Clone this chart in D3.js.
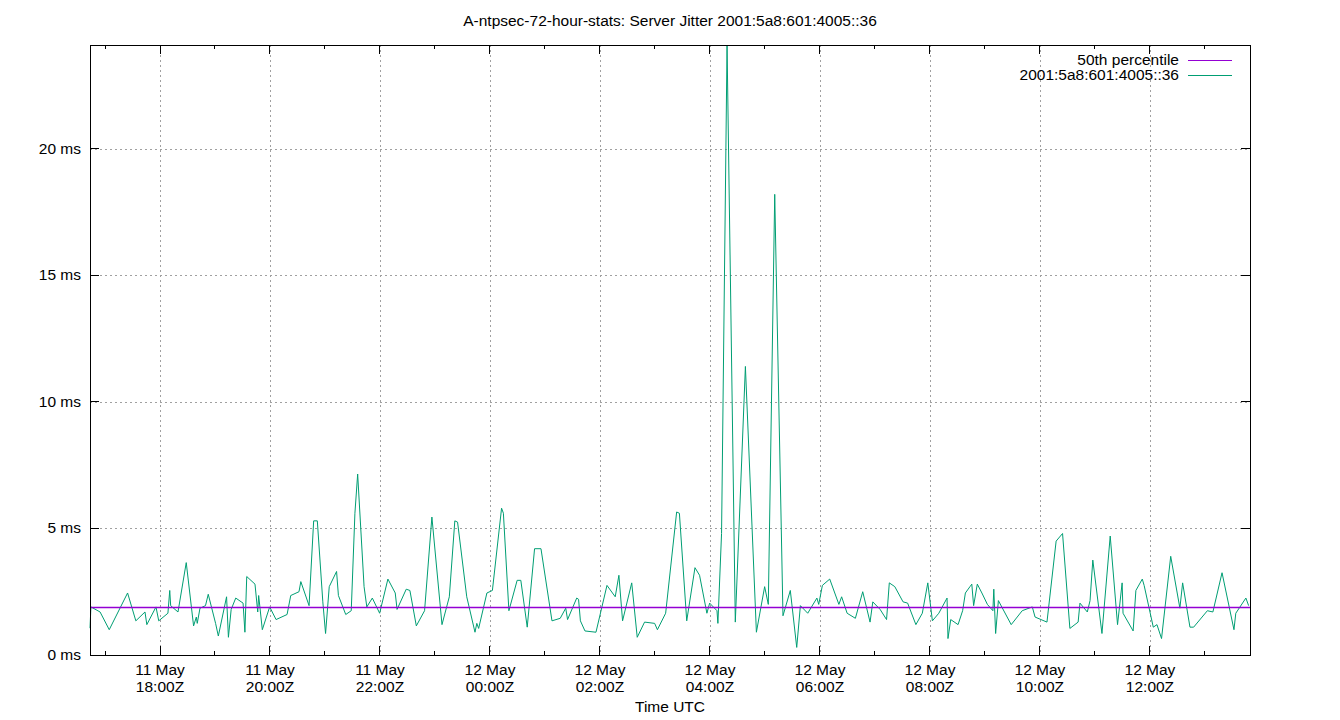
<!DOCTYPE html><html><head><meta charset="utf-8"><script src="https://cdn.jsdelivr.net/npm/d3@7"></script>
<style>body{margin:0;background:#fff}text{font-family:"Liberation Sans",Arial,sans-serif;font-size:15.5px}</style></head><body><svg id="c" width="1340" height="720"></svg><script>
const title="A-ntpsec-72-hour-stats: Server Jitter 2001:5a8:601:4005::36";
const seriesName="2001:5a8:601:4005::36";
const medianName="50th percentile";
const medianValue=1.89;
const startTime=Date.UTC(2023,4,11,16,43,38);
const spanMinutes=1265.5;
const yTicks=[0,5,10,15,20];
// [minutes since start, jitter ms]
const jitter=[[0,1.06],[1,1.9],[11,1.7],[21,1.0],[41,2.45],[50,1.35],[60,1.7],[62,1.2],[72,1.9],[75,1.35],[85,1.65],[87,2.55],[88,1.95],[96,1.7],[105,3.65],[113,1.15],[116,1.5],[117,1.25],[120,1.85],[126,1.95],[129,2.4],[137,1.25],[140,0.75],[149,2.3],[151,0.7],[154,1.8],[159,2.25],[167,2.05],[169,0.9],[171,3.1],[180,2.8],[183,1.7],[184,2.35],[188,1.0],[196,1.9],[203,1.4],[215,1.6],[219,2.35],[228,2.5],[230,2.9],[239,1.95],[244,5.3],[248,5.3],[254,2.1],[257,0.85],[261,2.7],[269,3.3],[271,2.35],[279,1.6],[285,1.75],[289,5.6],[292,7.15],[299,2.7],[302,1.9],[308,2.25],[316,1.65],[325,3.0],[333,2.45],[335,1.8],[345,2.6],[349,2.55],[356,1.15],[365,1.75],[373,5.45],[384,1.2],[392,2.3],[398,5.3],[401,5.25],[411,2.3],[420,0.9],[422,1.25],[424,1.05],[433,2.45],[439,2.55],[449,5.8],[451,5.6],[457,1.75],[466,2.95],[470,2.95],[477,1.1],[485,4.2],[492,4.2],[504,1.35],[513,1.45],[519,1.85],[521,1.4],[531,2.25],[533,2.2],[535,1.35],[540,0.95],[552,0.9],[564,2.75],[573,2.3],[577,3.15],[581,1.35],[591,2.85],[597,0.7],[605,1.3],[616,1.25],[619,1.0],[628,1.65],[640,5.65],[643,5.6],[651,1.35],[660,3.45],[665,3.15],[673,1.65],[676,2.05],[684,1.75],[685,1.25],[689,4.8],[695,24.1],[704,1.3],[715,11.4],[727,0.9],[736,2.7],[740,2.0],[747,18.2],[756,1.55],[764,2.55],[771,0.3],[775,1.95],[783,1.65],[793,2.25],[795,2.0],[799,2.75],[807,3.0],[817,2.0],[820,2.3],[826,1.65],[835,1.45],[843,2.5],[851,1.3],[854,2.1],[862,1.8],[869,1.4],[872,2.85],[878,2.7],[887,2.1],[892,2.05],[901,1.2],[908,1.65],[914,2.85],[919,1.35],[926,1.65],[935,2.25],[936,0.65],[939,1.4],[947,1.2],[952,1.75],[955,2.45],[960,2.7],[962,2.8],[964,1.95],[968,2.8],[973,2.45],[979,2.0],[985,1.75],[986,2.6],[988,0.85],[991,2.15],[1005,1.2],[1017,1.75],[1028,1.9],[1031,1.5],[1044,1.3],[1054,4.5],[1061,4.8],[1069,1.05],[1078,1.3],[1080,2.05],[1088,1.7],[1091,2.15],[1094,3.75],[1104,0.85],[1113,4.7],[1121,1.2],[1126,2.85],[1127,1.65],[1138,0.95],[1141,2.55],[1148,3.0],[1150,2.75],[1160,1.1],[1164,1.2],[1169,0.65],[1179,3.9],[1189,1.85],[1192,2.85],[1200,1.1],[1204,1.1],[1219,1.75],[1225,1.7],[1235,3.25],[1248,1.0],[1250,1.65],[1261,2.25],[1264,1.95]];
const svg=d3.select("#c");
const L=90,R=1250,T=45,B=655;
const t0=new Date(startTime), t1=new Date(startTime+spanMinutes*60000);
const x=d3.scaleUtc().domain([t0,t1]).range([L,R]);
const y=d3.scaleLinear().domain([0,24.1]).range([B,T]);
const major=d3.utcHour.range(t0,t1).filter(d=>d.getUTCHours()%2==0);
const minor=d3.utcHour.range(t0,t1).filter(d=>d.getUTCHours()%2==1);
const g=svg.append("g").attr("shape-rendering","crispEdges");
g.selectAll(".gx").data(major).join("line").attr("x1",d=>Math.round(x(d))+.5).attr("x2",d=>Math.round(x(d))+.5).attr("y1",T).attr("y2",B).attr("stroke","#a0a0a0").attr("stroke-dasharray","2,3");
g.selectAll(".gy").data(yTicks.filter(v=>v>0)).join("line").attr("x1",L).attr("x2",R).attr("y1",d=>Math.round(y(d))+.5).attr("y2",d=>Math.round(y(d))+.5).attr("stroke","#a0a0a0").attr("stroke-dasharray","2,3");
const tk=svg.append("g").attr("stroke","#000").attr("shape-rendering","crispEdges");
major.forEach(d=>{tk.append("line").attr("x1",x(d)).attr("x2",x(d)).attr("y1",B).attr("y2",B-9);tk.append("line").attr("x1",x(d)).attr("x2",x(d)).attr("y1",T).attr("y2",T+9);});
minor.forEach(d=>{tk.append("line").attr("x1",x(d)).attr("x2",x(d)).attr("y1",B).attr("y2",B-4);tk.append("line").attr("x1",x(d)).attr("x2",x(d)).attr("y1",T).attr("y2",T+4);});
yTicks.forEach(v=>{tk.append("line").attr("x1",L).attr("x2",L+9).attr("y1",y(v)).attr("y2",y(v));tk.append("line").attr("x1",R).attr("x2",R-9).attr("y1",y(v)).attr("y2",y(v));});
const fmtD=d3.utcFormat("%-d %b"), fmtH=d3.utcFormat("%H:%MZ");
major.forEach(d=>{const t=svg.append("text").attr("text-anchor","middle").attr("x",x(d));t.append("tspan").attr("x",x(d)).attr("y",675).text(fmtD(d));t.append("tspan").attr("x",x(d)).attr("y",692).text(fmtH(d));});
yTicks.forEach(v=>svg.append("text").attr("text-anchor","end").attr("x",L-9).attr("y",y(v)+5).text(v+" ms"));
svg.append("text").attr("text-anchor","middle").attr("x",670).attr("y",712).text("Time UTC");
svg.append("text").attr("text-anchor","middle").attr("x",670).attr("y",26).text(title);
const line=d3.line().x(d=>x(new Date(startTime+d[0]*60000))).y(d=>y(d[1]));
svg.append("path").datum(jitter).attr("d",line).attr("fill","none").attr("stroke","#009e73").attr("stroke-width",1);
svg.append("path").attr("d",d3.line()([[L,Math.round(y(medianValue))+.5],[R,Math.round(y(medianValue))+.5]])).attr("fill","none").attr("stroke","#9400d3").attr("stroke-width",1.3);
[[medianName,"#9400d3",60],[seriesName,"#009e73",75]].forEach(([n,c,yy])=>{svg.append("text").attr("text-anchor","end").attr("x",1179).attr("y",yy+5).text(n);svg.append("line").attr("x1",1188).attr("x2",1232).attr("y1",yy+.5).attr("y2",yy+.5).attr("stroke",c);});
svg.append("rect").attr("shape-rendering","crispEdges").attr("x",L+.5).attr("y",T+.5).attr("width",R-L).attr("height",B-T).attr("fill","none").attr("stroke","#000");
</script></body></html>
